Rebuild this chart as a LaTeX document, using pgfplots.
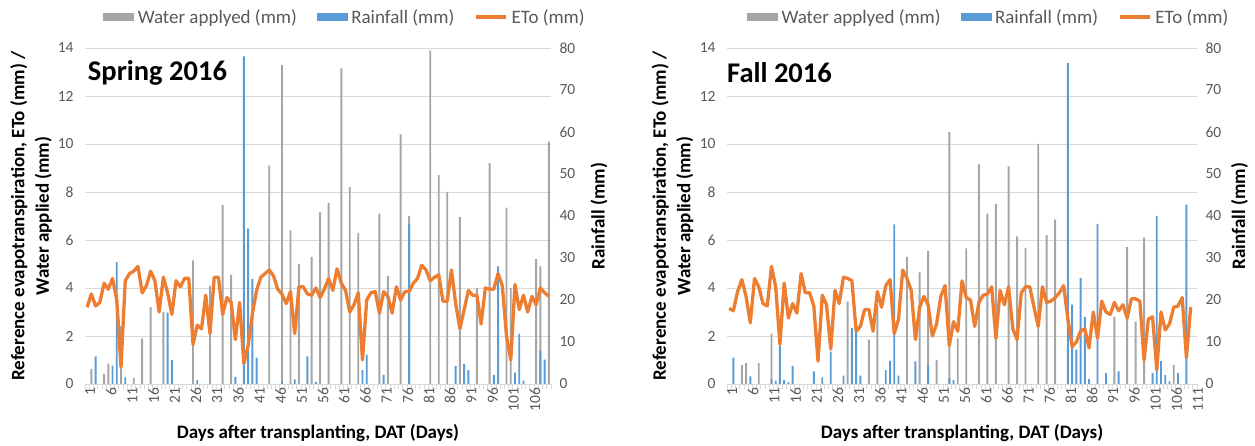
\documentclass[border=0pt]{standalone}
\usepackage{fontspec}
\setmainfont{Carlito}
\usepackage{pgfplots}
\pgfplotsset{compat=1.18}
\definecolor{wgray}{HTML}{A5A5A5}
\definecolor{rblue}{HTML}{5B9BD5}
\definecolor{eorange}{HTML}{ED7D31}
\definecolor{gridc}{HTML}{D9D9D9}
\definecolor{tickc}{HTML}{595959}
\newcommand{\tickfont}{\fontsize{15.5}{18}\selectfont}
\newcommand{\labfont}{\fontsize{19}{24.5}\selectfont\bfseries}
\newcommand{\legfont}{\fontsize{19}{21}\selectfont}
\newcommand{\leg}[1]{\hspace*{2pt}\legfont #1}
\pgfplotsset{
  panelbase/.style={scale only axis, height=336pt, xmin=0.5, ymin=0,
    anchor=south west, /pgf/number format/assume math mode=true},
  primary/.style={panelbase, ymax=14, ytick={0,2,...,14},
    axis x line*=bottom, axis y line*=left,
    y axis line style={draw=none},
    x axis line style={draw=gridc, line width=0.8pt},
    ymajorgrids, grid style={draw=gridc, line width=0.8pt},
    major tick length=0pt, minor tick length=5pt, tick align=outside,
    minor x tick style={draw=gridc, line width=0.8pt},
    xticklabel style={rotate=90, anchor=east, font=\tickfont, text=tickc, yshift=-3pt},
    yticklabel style={font=\tickfont, text=tickc, xshift=-8pt},
    xlabel style={font=\labfont, at={(axis description cs:0.5,-0.146)}, anchor=center},
    ylabel style={font=\labfont, align=center, at={(axis description cs:-0.116,0.5)}, anchor=center},
    xlabel={Days after transplanting, DAT (Days)},
    ylabel={Reference evapotranspiration, ETo (mm) /\\Water applied (mm)}},
  secondary/.style={panelbase, ymax=80, ytick={0,10,...,80},
    axis y line*=right, axis x line=none, xtick=\empty,
    y axis line style={draw=none}, major tick length=0pt,
    yticklabel style={font=\tickfont, text=tickc, xshift=5pt},
    ylabel style={font=\labfont, anchor=center},
    ylabel={Rainfall (mm)}},
  etoaxis/.style={panelbase, ymax=14, hide axis,
    legend style={draw=none, fill=none, anchor=center, legend columns=3,
      font=\legfont, nodes={font=\legfont}, text=tickc,
      /tikz/every even column/.append style={column sep=18pt}}},
  rainbar/.style={ybar, bar width=0.45, bar shift=0pt, fill=rblue, draw=none},
  waterbar/.style={ybar, bar width=0.45, bar shift=0pt, fill=wgray, draw=none},
  etoline/.style={eorange, line width=3.3pt, line join=round, mark=none,
    legend image code/.code={\draw[eorange, line width=3.3pt] (0pt,0pt) -- (30pt,0pt);}},
}
\begin{document}
\begin{tikzpicture}
\useasboundingbox (0,0) rectangle (1255pt,446pt);
% ================= Spring 2016 =================
\begin{axis}[primary, at={(85pt,62pt)}, width=466pt, xmax=110.5,
  xtick={1,6,...,106}, minor xtick={0.5,1.5,...,110.5}]
\addplot[waterbar] coordinates {(2,0.63)(5,0.42)(6,0.85)(9,2.4)(12,0.25)(14,1.9)(16,3.2)(19,3.0)(26,5.15)(30,4.1)(33,7.45)(35,4.55)(44,9.1)(47,13.3)(49,6.4)(51,5.0)(54,5.3)(56,7.15)(58,7.55)(61,13.15)(63,8.2)(65,6.3)(70,7.1)(72,4.5)(75,10.4)(77,7.0)(82,13.9)(84,8.7)(86,8.0)(89,6.95)(93,4.0)(96,9.2)(100,7.35)(101,4.0)(107,5.2)(108,4.9)(110,10.1)};
\end{axis}
\begin{axis}[secondary, at={(85pt,62pt)}, width=466pt, xmax=110.5,
  ylabel style={at={(axis description cs:1.103,0.5)}}]
\addplot[rainbar] coordinates {(3,6.6)(7,4.4)(8,29)(10,1.6)(20,17)(21,5.7)(27,0.9)(36,1.7)(38,78)(39,37)(40,25)(41,6.3)(47,0.6)(50,1.1)(53,6.6)(55,0.5)(66,3.3)(67,7.0)(71,2.2)(77,38)(88,4.3)(90,4.8)(91,3.3)(97,2.2)(98,28)(102,2.7)(103,12)(104,0.8)(108,8.0)(109,5.8)};
\end{axis}
\begin{axis}[etoaxis, at={(85pt,62pt)}, width=466pt, xmax=110.5,
  legend style={at={(axis description cs:0.558,1.092)}}]
\addlegendimage{legend image code/.code={\fill[wgray] (0pt,-3.5pt) rectangle (30pt,3.5pt);}}
\addlegendentry{\leg{Water applyed (mm)}}
\addlegendimage{legend image code/.code={\fill[rblue] (0pt,-3.5pt) rectangle (30pt,3.5pt);}}
\addlegendentry{\leg{Rainfall (mm)}}
\addplot[etoline] coordinates {(1,3.2)(2,3.75)(3,3.25)(4,3.4)(5,4.2)(6,3.95)(7,4.4)(8,3.5)(9,0.7)(10,4.3)(11,4.6)(12,4.7)(13,4.9)(14,3.8)(15,4.1)(16,4.7)(17,4.3)(18,3.0)(19,4.45)(20,3.8)(21,2.9)(22,4.3)(23,4.05)(24,4.4)(25,4.4)(26,1.65)(27,2.45)(28,2.3)(29,3.7)(30,2.1)(31,4.45)(32,4.45)(33,2.9)(34,3.6)(35,3.4)(36,1.85)(37,3.4)(38,0.85)(39,1.6)(40,2.9)(41,3.9)(42,4.45)(43,4.6)(44,4.75)(45,4.5)(46,3.95)(47,3.75)(48,3.35)(49,3.85)(50,2.1)(51,4.05)(52,4.05)(53,3.75)(54,3.7)(55,4.0)(56,3.6)(57,3.95)(58,4.4)(59,3.9)(60,4.8)(61,4.2)(62,3.9)(63,3.0)(64,3.3)(65,3.8)(66,1.0)(67,3.5)(68,3.8)(69,3.85)(70,2.95)(71,3.85)(72,3.65)(73,2.95)(74,4.05)(75,3.5)(76,3.85)(77,3.85)(78,4.2)(79,4.4)(80,4.95)(81,4.75)(82,4.3)(83,4.45)(84,4.55)(85,3.45)(86,3.45)(87,4.75)(88,3.35)(89,2.3)(90,3.1)(91,3.9)(92,3.7)(93,3.7)(94,2.5)(95,4.0)(96,3.95)(97,3.95)(98,4.6)(99,4.1)(100,2.0)(101,1.0)(102,4.15)(103,3.1)(104,3.7)(105,3.0)(106,3.65)(107,3.3)(108,4.0)(109,3.8)(110,3.65)};
\addlegendentry{\leg{ETo (mm)}}
\node[anchor=west, inner sep=0pt, font=\fontsize{28.5}{30}\selectfont\bfseries] at (rel axis cs:0.006,0.926) {Spring 2016};
\end{axis}
% ================= Fall 2016 =================
\begin{axis}[primary, at={(727pt,62pt)}, width=470pt, xmax=111.5,
  xtick={1,6,...,111}, minor xtick={0.5,1.5,...,111.5}]
\addplot[waterbar] coordinates {(4,0.8)(5,0.87)(8,0.87)(11,2.1)(29,3.43)(34,1.85)(36,3.3)(43,5.3)(46,4.65)(48,5.55)(50,1.0)(53,10.5)(55,1.9)(57,5.65)(60,9.15)(62,7.1)(64,7.5)(67,9.07)(69,6.15)(71,5.67)(74,10.0)(76,6.2)(78,6.85)(92,2.8)(95,5.7)(97,2.6)(99,6.1)(106,0.8)};
\end{axis}
\begin{axis}[secondary, at={(727pt,62pt)}, width=470pt, xmax=111.5,
  ylabel style={at={(axis description cs:1.0905,0.5)}}]
\addplot[rainbar] coordinates {(2,6.3)(6,1.8)(11,1.2)(12,0.8)(13,9)(14,0.9)(15,0.4)(16,4.3)(21,3.0)(23,1.6)(25,7.7)(28,2.0)(30,13.3)(31,12.5)(32,2.0)(38,3.3)(39,5.5)(40,38)(41,2.0)(45,5.4)(48,4.3)(53,1.4)(54,1.0)(81,76.4)(82,18.9)(83,8.2)(84,25.2)(85,15.9)(86,1.2)(88,38.1)(90,2.6)(93,3.0)(101,2.6)(102,40)(103,5.5)(104,2.1)(105,0.6)(107,2.6)(109,42.7)};
\end{axis}
\begin{axis}[etoaxis, at={(727pt,62pt)}, width=470pt, xmax=111.5,
  legend style={at={(axis description cs:0.557,1.092)}}]
\addlegendimage{legend image code/.code={\fill[wgray] (0pt,-3.5pt) rectangle (30pt,3.5pt);}}
\addlegendentry{\leg{Water applyed (mm)}}
\addlegendimage{legend image code/.code={\fill[rblue] (0pt,-3.5pt) rectangle (30pt,3.5pt);}}
\addlegendentry{\leg{Rainfall (mm)}}
\addplot[etoline] coordinates {(1,3.15)(2,3.05)(3,3.85)(4,4.35)(5,3.65)(6,2.55)(7,4.4)(8,4.05)(9,3.35)(10,3.25)(11,4.9)(12,4.05)(13,1.65)(14,4.2)(15,2.75)(16,3.35)(17,2.95)(18,4.6)(19,3.8)(20,3.8)(21,3.25)(22,0.95)(23,3.7)(24,3.3)(25,1.45)(26,3.9)(27,3.35)(28,4.45)(29,4.4)(30,4.3)(31,2.2)(32,2.4)(33,3.1)(34,3.1)(35,2.2)(36,3.85)(37,3.2)(38,4.1)(39,4.35)(40,2.1)(41,2.7)(42,4.75)(43,4.4)(44,3.9)(45,1.85)(46,3.2)(47,3.65)(48,3.3)(49,2.0)(50,2.5)(51,3.65)(52,4.1)(53,1.6)(54,2.6)(55,2.2)(56,4.3)(57,3.6)(58,3.5)(59,2.4)(60,3.4)(61,3.7)(62,3.75)(63,4.05)(64,1.9)(65,3.9)(66,3.3)(67,4.05)(68,2.3)(69,1.85)(70,3.8)(71,4.05)(72,4.05)(73,3.2)(74,2.4)(75,4.05)(76,3.4)(77,3.45)(78,3.6)(79,3.8)(80,4.1)(81,2.7)(82,1.55)(83,1.75)(84,2.2)(85,2.3)(86,1.5)(87,3.0)(88,1.9)(89,3.45)(90,3.0)(91,2.9)(92,3.4)(93,3.05)(94,3.3)(95,2.75)(96,3.55)(97,3.55)(98,3.45)(99,1.0)(100,2.7)(101,2.8)(102,0.6)(103,3.0)(104,2.25)(105,2.5)(106,3.2)(107,3.25)(108,3.6)(109,1.1)(110,3.2)};
\addlegendentry{\leg{ETo (mm)}}
\node[anchor=west, inner sep=0pt, font=\fontsize{28.5}{30}\selectfont\bfseries] at (rel axis cs:0.0,0.926) {Fall 2016};
\end{axis}
\end{tikzpicture}
\end{document}
